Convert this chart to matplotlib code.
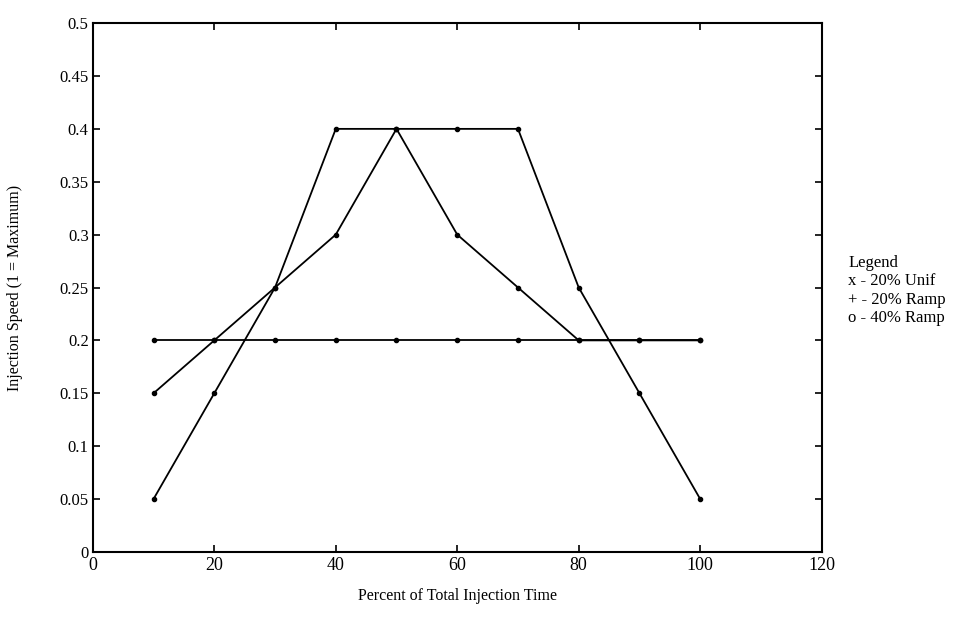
import numpy as np
import matplotlib
matplotlib.use('Agg')
import matplotlib.pyplot as plt

# injection profiles, percent of total time vs. speed
time_pct = [10, 20, 30, 40, 50, 60, 70, 80, 90, 100]
unif_20 = [0.2, 0.2, 0.2, 0.2, 0.2, 0.2, 0.2, 0.2, 0.2, 0.2]
ramp_20 = [0.15, 0.2, 0.25, 0.3, 0.4, 0.3, 0.25, 0.2, 0.2, 0.2]
ramp_40 = [0.05, 0.15, 0.25, 0.4, 0.4, 0.4, 0.4, 0.25, 0.15, 0.05]

legend_lines = ['Legend', 'x - 20% Unif', '+ - 20% Ramp', 'o - 40% Ramp']

plt.rcParams['font.family'] = ['Liberation Serif', 'DejaVu Serif']

fig = plt.figure(figsize=(9.77, 6.25), dpi=100)
ax = fig.add_axes([0.095, 0.117, 0.746, 0.846])

for ys in [unif_20, ramp_20, ramp_40]:
    ax.plot(time_pct, ys, color='black', linewidth=1.3,
            marker='o', markersize=3)

ax.set_xlim(0, 120)
ax.set_ylim(0, 0.5)
ax.set_xticks([0, 20, 40, 60, 80, 100, 120])
ax.set_yticks([0, 0.05, 0.1, 0.15, 0.2, 0.25, 0.3, 0.35, 0.4, 0.45, 0.5])
ax.set_yticklabels(['0', '0.05', '0.1', '0.15', '0.2', '0.25', '0.3',
                    '0.35', '0.4', '0.45', '0.5'])
ax.tick_params(direction='in', top=True, right=True, length=5, width=1.2)
ax.tick_params(axis='x', labelsize=13, pad=4)
ax.tick_params(axis='y', labelsize=12, pad=3)
for sp in ax.spines.values():
    sp.set_linewidth(1.5)

ax.set_xlabel('Percent of Total Injection Time', fontsize=11.5, labelpad=10)
ax.set_ylabel('Injection Speed (1 = Maximum)', fontsize=11.5, labelpad=26)

# legend written as plain text to the right of the axes
for i, s in enumerate(legend_lines):
    fig.text(0.868, 1 - (263 + 18.3 * i) / 625, s, fontsize=12,
             va='center', ha='left')

fig.savefig('out.png', dpi=100)
